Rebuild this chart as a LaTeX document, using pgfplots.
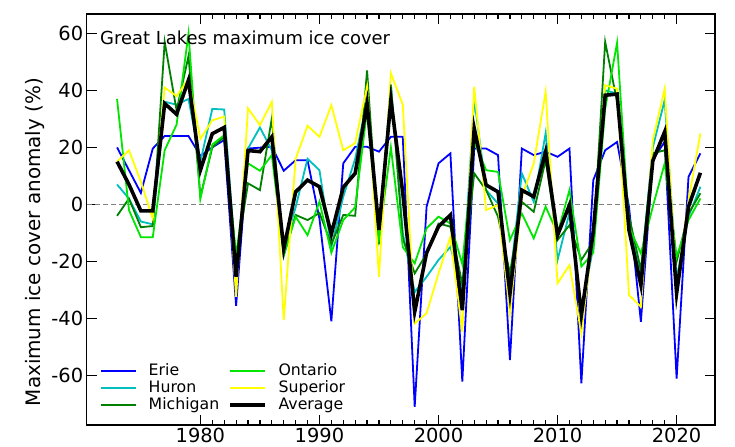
\documentclass[border=0pt]{standalone}
\usepackage{pgfplots}
\pgfplotsset{compat=1.18}
\usepackage{pgfplotstable}
\usepackage{fontspec}
\setmainfont{DejaVu Sans}

\definecolor{erie}{RGB}{0,0,255}
\definecolor{huron}{RGB}{0,191,191}
\definecolor{michigan}{RGB}{0,128,0}
\definecolor{ontario}{RGB}{0,230,0}
\definecolor{superior}{RGB}{255,255,0}

\pgfplotstableread{
year erie huron michigan ontario superior average
1973 20 7 -4 37 15 15
1974 12 2 2 -2 19 7
1975 4 -6 -8 -11.5 8 -2.3
1976 19.6 -7 -7.6 -11.5 -5 -2.3
1977 24 36 57 19 41 35.4
1978 24 35 33 28 38 31.6
1979 24 37 52 60 44 43.6
1980 17 15 2.7 2 23 12
1981 20 33.5 20 21 29.5 24.8
1982 22.6 33.3 23.7 24.3 30.8 27
1983 -35.6 -22 -19 -18 -32.4 -25.4
1984 19.6 19.6 7.4 14.4 33.7 18.9
1985 19.9 27 5 11.8 27.8 18.5
1986 20.2 19 30.2 17.3 36 23.7
1987 11.8 -15 -18 -17.8 -40.6 -15.6
1988 15.5 -1 -3.7 -4.3 16 4.4
1989 15.5 16 -5.5 -10.8 27.6 8.5
1990 -5 12 -3 1 23.7 6.2
1991 -41 -15 -14 -17 34.8 -10.4
1992 14.4 2.7 -3.7 -5.5 19 6
1993 20.2 16 -4 -1 21.5 10.9
1994 20.2 36.6 47 33 41.3 35.4
1995 18.5 -12 -14 -12 -25.4 -9
1996 23.7 42 42 20 46 36.6
1997 23.7 -10 -12 -15 35 4
1998 -71 -30.8 -24.2 -20.7 -41.8 -37.7
1999 -0.8 -25.4 -17.3 -8.4 -38.2 -17
2000 14.4 -19.5 -6.7 -4.3 -24.2 -7.8
2001 17.9 -14.9 -7.8 -6.7 -11.4 -3.7
2002 -62.2 -30 -28 -21 -44.7 -37.1
2003 19.6 37 10.9 22 41.3 26.7
2004 19.6 5 5 12 -2 6.8
2005 17.3 0.3 -4.3 11.4 -0.2 4.4
2006 -54.6 -27 -24.2 -12.5 -38.2 -31.3
2007 19.6 10.9 0.9 -3.2 2.7 5
2008 17.3 0.9 -2.6 -11.9 14.4 2.7
2009 18.5 25 15.6 -0.8 39.5 18.5
2010 16.7 -19.5 -12.5 -10.2 -27.7 -10.8
2011 19.6 -3 -7.3 5 -21.3 -0.2
2012 -62.8 -37 -19.5 -21.8 -45.3 -38.8
2013 8.5 -15 -13 -17 -10 -9.5
2014 19 40 57 33.6 41.8 38.3
2015 21.9 38.9 36 56.7 40.6 38.7
2016 -0.8 -8 -4 -7.9 -31.8 -9
2017 -41.2 -24 -23 -17.2 -35.9 -28.3
2018 15.6 20 17.9 -0.8 22.5 15.3
2019 22 36.6 19 14.4 40.6 25.5
2020 -61.1 -26 -20 -18.4 -30 -31.2
2021 9.7 -4.3 -3.2 -5.5 1.5 -0.8
2022 17.9 6.2 3.9 2.1 24.9 11.1
}\icedata

\begin{document}
\begin{tikzpicture}
\path[use as bounding box] (-86.7bp,-22bp) rectangle (648.3bp,425bp);
\begin{axis}[
  at={(0,0)}, anchor=south west,
  scale only axis,
  width=628bp, height=411bp,
  xmin=1970.45, xmax=2023.2,
  ymin=-77.4, ymax=66.8,
  xtick={1980,1990,2000,2010,2020},
  xticklabels={1980,1990,2000,2010,2020},
  minor x tick num=9,
  ytick={-60,-40,-20,0,20,40,60},
  yticklabels={-60,-40,-20,0,20,40,60},
  tick align=inside,
  xtick pos=both, ytick pos=both,
  major tick length=10bp,
  minor tick length=5bp,
  every tick/.style={line width=1.2bp, black},
  axis line style={line width=1.6bp, black},
  ticklabel style={font=\fontsize{19.5}{22}\selectfont},
  ylabel={Maximum ice cover anomaly (\%)},
  ylabel style={at={(axis description cs:-0.0823,0.445)}, anchor=center, font=\fontsize{20}{23}\selectfont},
  legend columns=2,
  legend cell align=left,
  legend image code/.code={\draw[#1] (0bp,0bp) -- (35bp,0bp);},
  legend style={draw=none, fill=none, inner sep=0pt,
    at={(axis description cs:0.0212,0.152)}, anchor=north west,
    font=\fontsize{15.8}{18}\selectfont,
    nodes={text height=11bp, text depth=3.2bp, inner ysep=1.4bp, inner xsep=0bp},
    /tikz/every odd column/.append style={column sep=11.7bp},
    /tikz/every even column/.append style={column sep=9bp}},
]
\addplot[gray, line width=1bp, dash pattern=on 5bp off 3bp, forget plot] coordinates {(1970.45,0) (2023.2,0)};
\addplot[erie, line width=1.8bp, forget plot] table[x=year, y=erie] {\icedata};
\addplot[huron, line width=1.8bp, forget plot] table[x=year, y=huron] {\icedata};
\addplot[michigan, line width=1.8bp, forget plot] table[x=year, y=michigan] {\icedata};
\addplot[ontario, line width=1.8bp, forget plot] table[x=year, y=ontario] {\icedata};
\addplot[superior, line width=1.8bp, forget plot] table[x=year, y=superior] {\icedata};
\addplot[black, line width=3.6bp, forget plot] table[x=year, y=average] {\icedata};
\addlegendimage{erie, line width=1.8bp}\addlegendentry{Erie}
\addlegendimage{ontario, line width=1.8bp}\addlegendentry{Ontario}
\addlegendimage{huron, line width=1.8bp}\addlegendentry{Huron}
\addlegendimage{superior, line width=1.8bp}\addlegendentry{Superior}
\addlegendimage{michigan, line width=1.8bp}\addlegendentry{Michigan}
\addlegendimage{black, line width=3.6bp}\addlegendentry{Average}
\node[anchor=north west, inner sep=0pt, font=\fontsize{18}{21}\selectfont] at (axis description cs:0.0212,0.9594) {Great Lakes maximum ice cover};
\end{axis}
\end{tikzpicture}
\end{document}
